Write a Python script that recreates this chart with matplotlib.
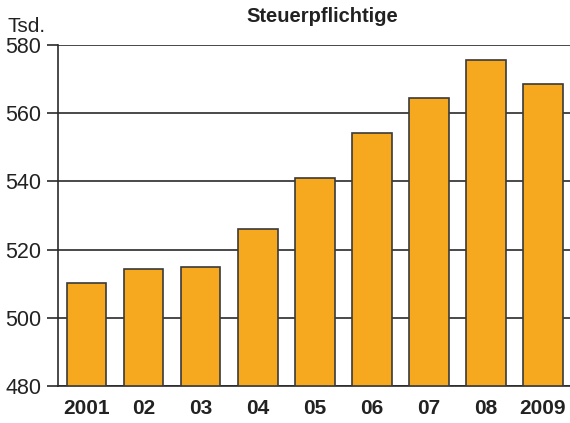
import matplotlib
matplotlib.use('Agg')
import matplotlib.pyplot as plt

years = ['2001', '02', '03', '04', '05', '06', '07', '08', '2009']
values = [510.3, 514.3, 514.9, 526.1, 541.0, 554.2, 564.6, 575.6, 568.6]

plt.rcParams['font.family'] = ['Liberation Sans', 'DejaVu Sans']

fig = plt.figure(figsize=(5.7, 4.23), dpi=100)
ax = fig.add_axes([58 / 570, 37 / 423, 1 - 58 / 570, (386 - 45) / 423])

x = list(range(len(years)))
ax.bar(x, [v - 480 for v in values], bottom=480, width=0.7,
       color='#F6A81E', edgecolor='#3a3a3a', linewidth=1.2, zorder=3)

ax.set_xlim(-0.5, 8.48)
ax.set_ylim(480, 580)
ax.set_yticks([480, 500, 520, 540, 560, 580])
ax.yaxis.grid(True, color='#2a2a2a', linewidth=1.2, zorder=0)
ax.set_axisbelow(True)

ax.set_xticks(x)
ax.set_xticklabels(years, fontsize=15, fontweight='bold', color='#222222')
ax.tick_params(axis='x', length=0, pad=9)
ax.tick_params(axis='y', length=8, width=1.2, color='#2a2a2a',
               labelsize=15.5, labelcolor='#222222', pad=4)

for s in ['top', 'right']:
    ax.spines[s].set_visible(False)
ax.spines['left'].set_color('#2a2a2a')
ax.spines['left'].set_linewidth(1.2)
ax.spines['bottom'].set_color('#2a2a2a')
ax.spines['bottom'].set_linewidth(1.2)

fig.text(322 / 570, 1 - 16 / 423, 'Steuerpflichtige', ha='center', va='center',
         fontsize=14.5, fontweight='bold', color='#222222')
fig.text(8 / 570, 1 - 26 / 423, 'Tsd.', ha='left', va='center',
         fontsize=15, color='#222222')

fig.savefig('out.png', dpi=100)
